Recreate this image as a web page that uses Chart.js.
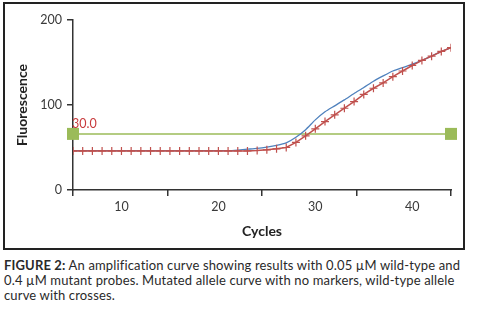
<!DOCTYPE html>
<html>
<head>
<meta charset="utf-8">
<script src="https://cdn.jsdelivr.net/npm/chart.js@4.4.1/dist/chart.umd.min.js"></script>
<style>
    body { margin: 0; background: #fff; width: 478px; height: 313px; overflow: hidden; font-family: Lato, sans-serif; }
    #box { position: absolute; left: 3px; top: 2px; width: 458px; height: 244px; border: 2px solid #222; }
    #caption { position: absolute; left: 4px; top: 258px; width: 468px; font-size: 13px; line-height: 15px; letter-spacing: 0.15px; color: #2a2a2a; }
</style>
</head>
<body>
<div id="box"><canvas id="ampChart" width="458" height="244"></canvas></div>
<div id="caption"><b>FIGURE 2:</b> An amplification curve showing results with 0.05 µM wild-type and 0.4 µM mutant probes. Mutated allele curve with no markers, wild-type allele curve with crosses.</div>
<script>
// cycle numbers on the x axis
const cycles = [5, 6, 7, 8, 9, 10, 11, 12, 13, 14, 15, 16, 17, 18, 19, 20, 21, 22, 23, 24,
                25, 26, 27, 28, 29, 30, 31, 32, 33, 34, 35, 36, 37, 38, 39, 40, 41, 42, 43, 44];

// wild-type allele (red, crosses)
const wildType = [46, 46, 46, 46, 46, 46, 46, 46, 46, 46, 46, 46, 46, 46, 46, 46, 46, 46, 46, 46.5,
                  47.3, 48.5, 50, 56, 63.7, 72, 80.5, 88.4, 96.2, 104, 112.5, 119.7, 126, 133.3, 140, 146.5, 152.5, 157.5, 163, 167.5];

// mutated allele (blue, no markers)
const mutant = [46.3, 46.3, 46.3, 46.3, 46.3, 46.3, 46.3, 46.3, 46.3, 46.3, 46.3, 46.3, 46.3, 46.3, 46.3, 46.3, 46.3, 47, 48, 49,
                50.5, 52.5, 55.5, 62, 71, 82.5, 92, 99, 106, 113.5, 120.5, 128, 134.2, 140, 144, 148, 152.5, 157.5, 163, 167.5];

// threshold line
const thresholdCycles = [5, 44];
const thresholdLevel = [66, 66];
const thresholdLabel = '30.0';

// axis ticks
const xTickLabels = [10, 20, 30, 40];
const xTickMarks = [5, 14.75, 24.5, 34.25, 44];
const yTickLabels = [0, 100, 200];

const RED = '#C0504D';
const BLUE = '#4F81BD';
const GREEN = '#9BBB59';
const AXIS = '#333';

const thresholdText = {
    id: 'thresholdText',
    afterDatasetsDraw(chart) {
        const { ctx, scales: { x, y } } = chart;
        ctx.save();
        ctx.font = '12.5px Lato';
        ctx.fillStyle = '#C83A3C';
        ctx.textBaseline = 'alphabetic';
        ctx.fillText(thresholdLabel, x.getPixelForValue(thresholdCycles[0]) - 1, y.getPixelForValue(thresholdLevel[0]) - 6);
        ctx.restore();
    }
};

const ctx = document.getElementById('ampChart').getContext('2d');

new Chart(ctx, {
    type: 'line',
    data: {
        datasets: [
            {
                label: 'Wild-type',
                data: cycles.map((c, i) => ({ x: c, y: wildType[i] })),
                borderColor: RED,
                borderWidth: 1.5,
                tension: 0,
                pointStyle: 'cross',
                pointRadius: 4,
                pointBorderWidth: 1.2,
                pointBorderColor: RED
            },
            {
                label: 'Mutant',
                data: cycles.map((c, i) => ({ x: c, y: mutant[i] })),
                borderColor: BLUE,
                borderWidth: 1.3,
                tension: 0.2,
                pointRadius: 0
            },
            {
                label: 'Threshold',
                data: thresholdCycles.map((c, i) => ({ x: c, y: thresholdLevel[i] })),
                borderColor: GREEN,
                borderWidth: 1.5,
                pointStyle: 'rect',
                pointRadius: 8.5,
                pointBackgroundColor: GREEN,
                pointBorderWidth: 0,
                clip: false
            }
        ]
    },
    plugins: [thresholdText],
    options: {
        responsive: false,
        animation: false,
        layout: { padding: { top: 16, right: 12, left: 0, bottom: 0 } },
        plugins: {
            legend: { display: false },
            tooltip: { enabled: false }
        },
        scales: {
            x: {
                type: 'linear',
                min: 5,
                max: 44,
                afterBuildTicks: scale => { scale.ticks = xTickLabels.map(v => ({ value: v })); },
                afterFit: scale => { scale.height = 58; },
                grid: { drawOnChartArea: false, drawTicks: true, tickLength: 6, color: 'transparent' },
                border: { color: AXIS, width: 1.5 },
                ticks: { padding: 3, color: '#3a3a3a', font: { family: 'Lato', size: 12.5 } },
                title: {
                    display: true,
                    text: 'Cycles',
                    color: '#222',
                    font: { family: 'Lato', size: 14, weight: 'bold' },
                    padding: { top: 0, bottom: 8 }
                }
            },
            x2: {
                type: 'linear',
                axis: 'x',
                position: 'bottom',
                weight: -1,
                min: 5,
                max: 44,
                afterBuildTicks: scale => { scale.ticks = xTickMarks.map(v => ({ value: v })); },
                afterFit: scale => { scale.height = 0; },
                grid: { drawOnChartArea: false, drawTicks: true, tickLength: 6, color: AXIS, lineWidth: 1.5 },
                border: { display: false },
                ticks: { display: false }
            },
            y: {
                min: 0,
                max: 200,
                afterBuildTicks: scale => { scale.ticks = yTickLabels.map(v => ({ value: v })); },
                afterFit: scale => { scale.width = 68; },
                grid: { drawOnChartArea: false, drawTicks: true, tickLength: 6, color: AXIS, lineWidth: 1.5 },
                border: { color: AXIS, width: 1.5 },
                ticks: { padding: 5, color: '#3a3a3a', font: { family: 'Lato', size: 12.5 } },
                title: {
                    display: true,
                    text: 'Fluorescence',
                    color: '#222',
                    font: { family: 'Lato', size: 14, weight: 'bold' },
                    padding: { top: 9, bottom: 0 }
                }
            }
        }
    }
});
</script>
</body>
</html>
